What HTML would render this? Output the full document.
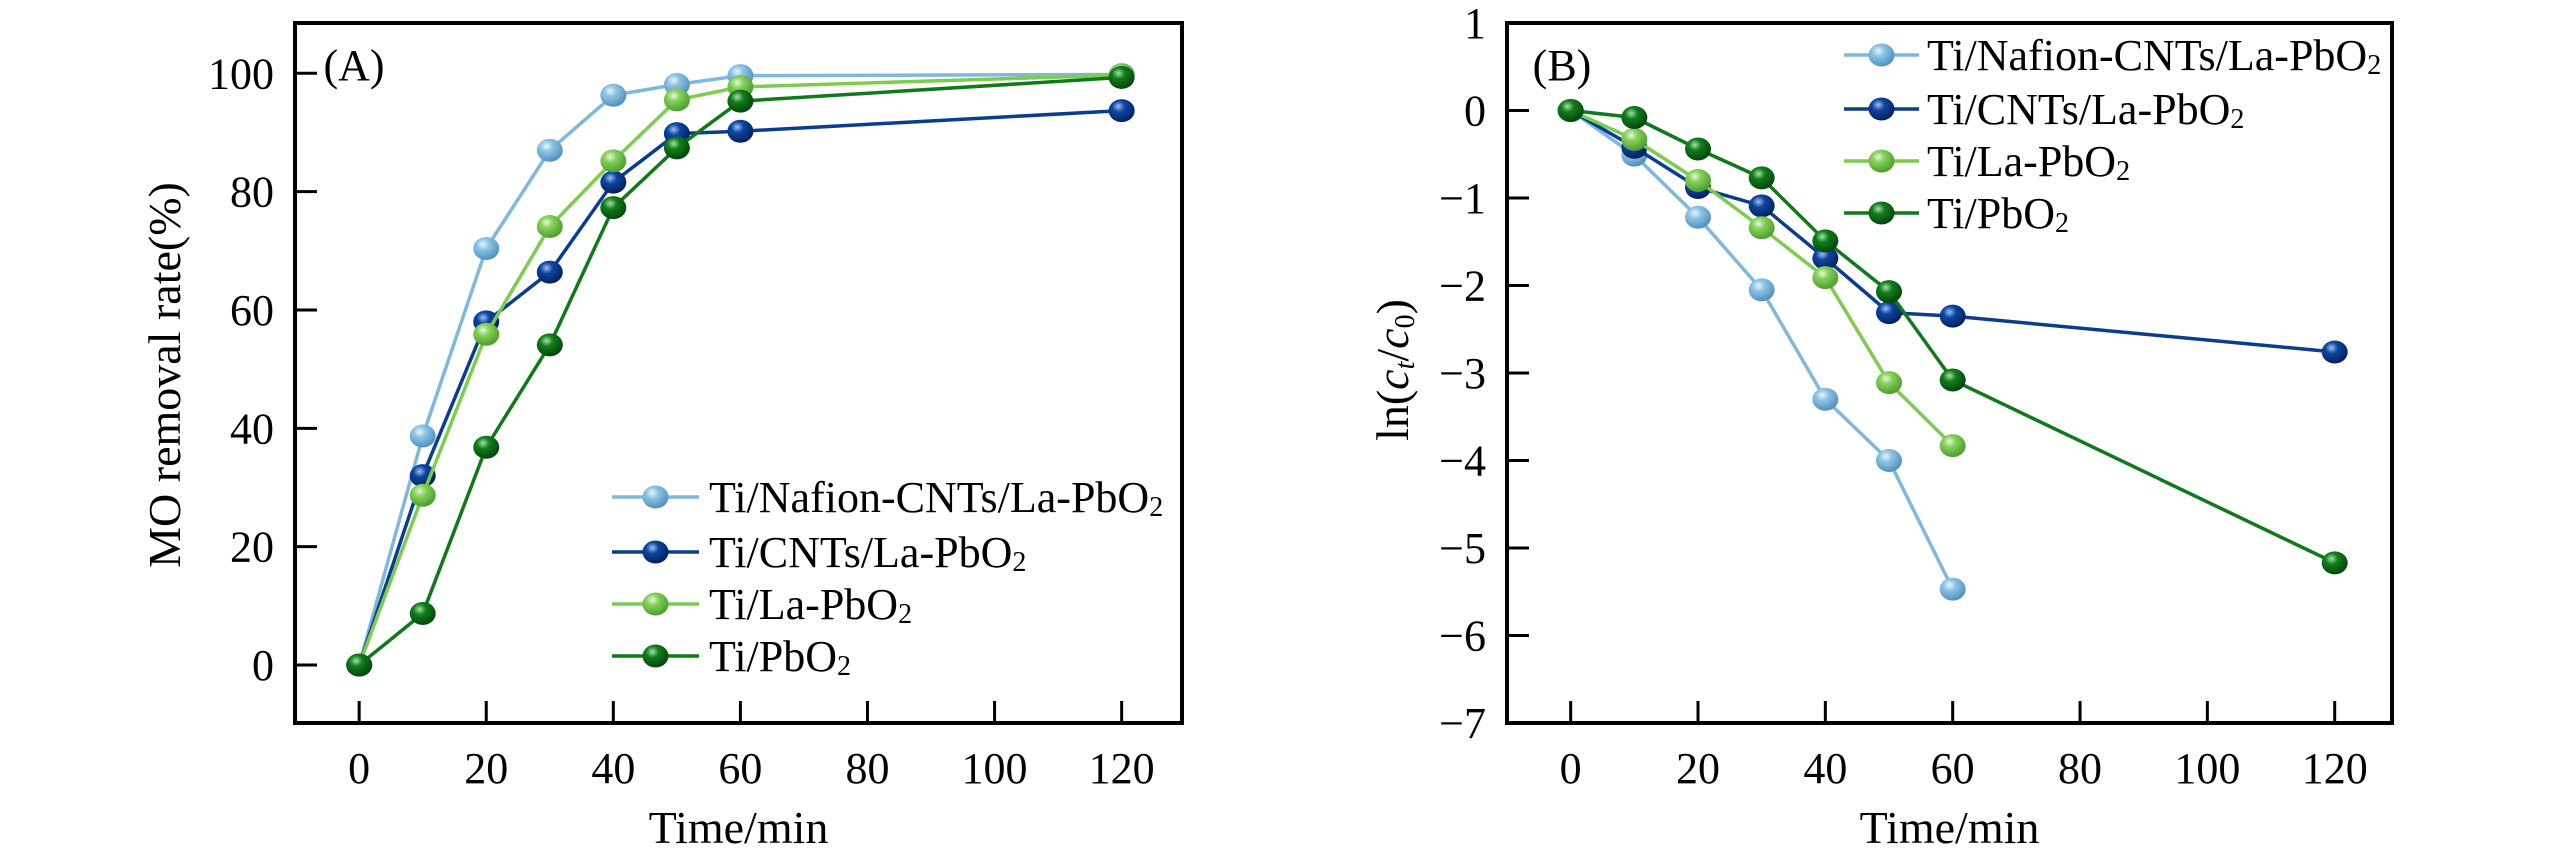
<!DOCTYPE html>
<html><head><meta charset="utf-8"><style>
html,body{margin:0;padding:0;background:#fff;}
svg{display:block;font-family:"Liberation Serif","Times New Roman",serif;}
</style></head><body>
<svg id="fig" width="2567" height="866" viewBox="0 0 2567 866" xmlns="http://www.w3.org/2000/svg">
<defs>
<radialGradient id="g0" cx="0.38" cy="0.32" r="0.7"><stop offset="0" stop-color="#e8f4fb"/><stop offset="0.35" stop-color="#8cc3e3"/><stop offset="1" stop-color="#4f8fbd"/></radialGradient>
<radialGradient id="g1" cx="0.38" cy="0.32" r="0.7"><stop offset="0" stop-color="#9fc0ee"/><stop offset="0.35" stop-color="#0c46a0"/><stop offset="1" stop-color="#031f5c"/></radialGradient>
<radialGradient id="g2" cx="0.38" cy="0.32" r="0.7"><stop offset="0" stop-color="#e6f8d8"/><stop offset="0.35" stop-color="#84d05a"/><stop offset="1" stop-color="#4c9c2a"/></radialGradient>
<radialGradient id="g3" cx="0.38" cy="0.32" r="0.7"><stop offset="0" stop-color="#a8e0a8"/><stop offset="0.35" stop-color="#117d1c"/><stop offset="1" stop-color="#03440a"/></radialGradient>
</defs>
</svg>
<script>
const timesA = [0,10,20,30,40,50,60,120];
const nafionA = [0,38.7,70.4,87.0,96.3,98.1,99.6,99.8];
const cntsA = [0,32.0,58.0,66.4,81.6,89.8,90.2,93.7];
const laA = [0,28.7,55.9,74.1,85.2,95.5,97.7,99.7];
const pbA = [0,8.7,36.8,54.1,77.3,87.4,95.3,99.3];
const timesB1 = [0,10,20,30,40,50,60];
const timesB2 = [0,10,20,30,40,50,60,120];
const nafionB = [0,-0.51,-1.22,-2.05,-3.30,-4.00,-5.47];
const cntsB = [0,-0.42,-0.88,-1.09,-1.69,-2.31,-2.35,-2.76];
const laB = [0,-0.33,-0.80,-1.34,-1.91,-3.11,-3.83];
const pbB = [0,-0.08,-0.44,-0.77,-1.49,-2.07,-3.08,-5.17];
const xTicks = [0,20,40,60,80,100,120];
const yTicksA = [0,20,40,60,80,100];
const yTicksB = [1,0,-1,-2,-3,-4,-5,-6,-7];
const names = ["Ti/Nafion-CNTs/La-PbO","Ti/CNTs/La-PbO","Ti/La-PbO","Ti/PbO"];
const colors = ["#7fb8dc","#0a3d8f","#7ccc4e","#0f7a1a"];

const NS="http://www.w3.org/2000/svg";
const svg=document.getElementById('fig');
function el(tag,attrs,parent){const e=document.createElementNS(NS,tag);for(const k in attrs)e.setAttribute(k,attrs[k]);(parent||svg).appendChild(e);return e;}

function panel(cfg){
  const g=el('g',{});
  
  
  const sx=v=>cfg.x0+(v-cfg.xmin)/(cfg.xmax-cfg.xmin)*(cfg.x1-cfg.x0);
  const sy=v=>cfg.y1-(v-cfg.ymin)/(cfg.ymax-cfg.ymin)*(cfg.y1-cfg.y0);
  // ticks
  cfg.xt.forEach(t=>{
    const l=el('line',{x1:sx(t),x2:sx(t),y1:cfg.y1,y2:cfg.y1-22,stroke:'#000','stroke-width':3},g);
    
    
    const tx=el('text',{x:sx(t),y:cfg.y1+60,'font-size':44,'text-anchor':'middle'},g);
    tx.textContent=t;
    
    
  });
  cfg.yt.forEach(t=>{
    const l=el('line',{x1:cfg.x0,x2:cfg.x0+22,y1:sy(t),y2:sy(t),stroke:'#000','stroke-width':3},g);
    
    
    const tx=el('text',{x:cfg.x0-21,y:sy(t)+15,'font-size':44,'text-anchor':'end'},g);
    tx.textContent=(t<0?'\u2212'+(-t):t);
    
    
  });
  // series
  cfg.series.forEach((s,i)=>{
    const sg=el('g',{},g);
    
    
    const pts=s.x.map((v,j)=>sx(v)+','+sy(s.y[j])).join(' ');
    const pl=el('polyline',{points:pts,fill:'none',stroke:colors[i],'stroke-width':3.5},sg);
    
    
    s.x.forEach((v,j)=>{
      const m=el('ellipse',{cx:sx(v),cy:sy(s.y[j]),rx:13,ry:11.5,fill:'url(#g'+i+')'},sg);
      
      
    });
  });
  // frame
  const fr=el('rect',{x:cfg.x0,y:cfg.y0,width:cfg.x1-cfg.x0,height:cfg.y1-cfg.y0,fill:'none',stroke:'#000','stroke-width':4},g);
  
  
  // legend
  cfg.leg.ys.forEach((yy,i)=>{
    const lg=el('g',{},g);
    
    
    el('line',{x1:cfg.leg.lx0,x2:cfg.leg.lx1,y1:yy,y2:yy,stroke:colors[i],'stroke-width':3.5},lg);
    el('ellipse',{cx:(cfg.leg.lx0+cfg.leg.lx1)/2,cy:yy,rx:13,ry:11.5,fill:'url(#g'+i+')'},lg);
    const t=el('text',{x:cfg.leg.tx,y:yy+15,'font-size':44},lg);
    t.textContent=names[i];
    const sub=el('tspan',{'font-size':28,dy:4},t);
    sub.textContent='2';
  });
  const lb=el('text',{x:cfg.lab[0],y:cfg.lab[1],'font-size':44,'text-anchor':'middle'},g);
  lb.textContent=cfg.id==='a'?'(A)':'(B)';
  
  
  const xl=el('text',{x:(cfg.x0+cfg.x1)/2,y:843,'font-size':46,'text-anchor':'middle'},g);
  xl.textContent='Time/min';
  
  
  return {g,sx,sy};
}

const A=panel({id:'a',x0:295,x1:1182,y0:23,y1:723,xmin:-10.1,xmax:129.5,ymin:-9.8,ymax:108.5,xt:xTicks,yt:yTicksA,
  series:[{x:timesA,y:nafionA},{x:timesA,y:cntsA},{x:timesA,y:laA},{x:timesA,y:pbA}],
  leg:{lx0:612,lx1:699,tx:709,ys:[497,552,604,656]},lab:[354,80]});
const yA=el('text',{x:0,y:0,'font-size':46,'text-anchor':'middle',transform:'translate(180,375) rotate(-90)'});
yA.textContent='MO removal rate(%)';



const B=panel({id:'b',x0:1507,x1:2392,y0:23,y1:723,xmin:-10,xmax:129,ymin:-7,ymax:1.0,xt:xTicks,yt:yTicksB,
  series:[{x:timesB1,y:nafionB},{x:timesB2,y:cntsB},{x:timesB1,y:laB},{x:timesB2,y:pbB}],
  leg:{lx0:1844,lx1:1919,tx:1927,ys:[55,109,161,213]},lab:[1562,80]});
const yB=el('text',{x:0,y:0,'font-size':46,'text-anchor':'middle',transform:'translate(1408,370) rotate(-90)'});


yB.innerHTML='ln(<tspan font-style="italic">c</tspan><tspan font-style="italic" font-size="28" dy="6">t</tspan><tspan dy="-6">/</tspan><tspan font-style="italic">c</tspan><tspan font-size="28" dy="6">0</tspan><tspan dy="-6">)</tspan>';
</script>
</body></html>
